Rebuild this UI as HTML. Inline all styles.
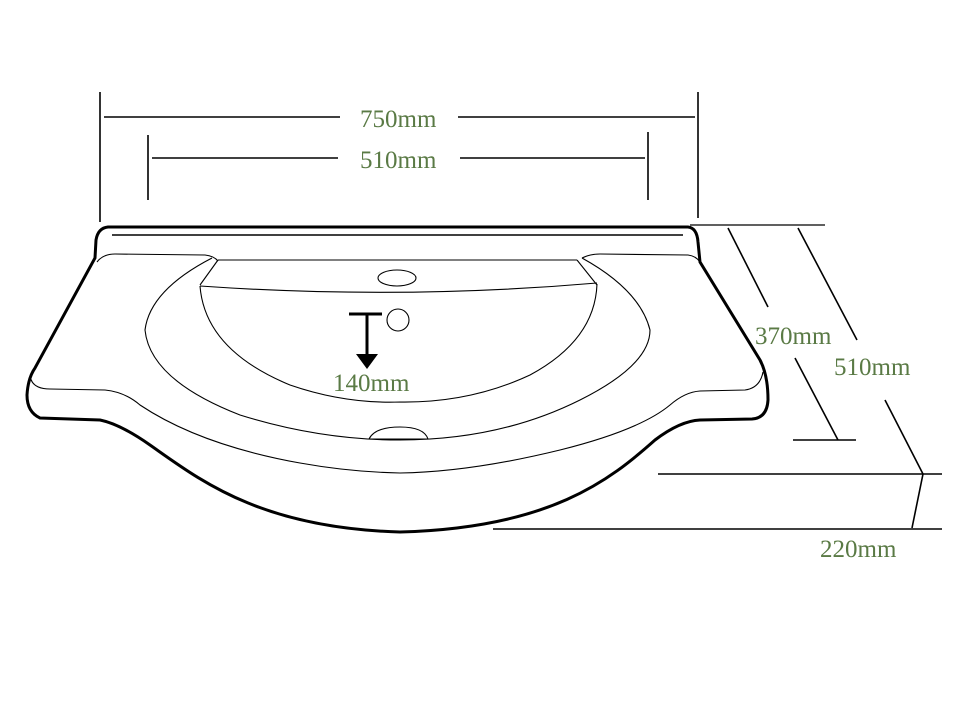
<!DOCTYPE html>
<html><head><meta charset="utf-8"><style>
html,body{margin:0;padding:0;background:#fff;}
svg{display:block;}
text{font-family:"Liberation Serif",serif;font-size:25px;fill:#5a7a45;}
</style></head><body>
<svg width="962" height="720" viewBox="0 0 962 720" xmlns="http://www.w3.org/2000/svg">
<g stroke="#000" fill="none" stroke-width="1.6">
<line x1="100" y1="92" x2="100" y2="222"/>
<line x1="698" y1="92" x2="698" y2="218"/>
<line x1="104" y1="117" x2="340" y2="117"/>
<line x1="458" y1="117" x2="695" y2="117"/>
<line x1="148" y1="135" x2="148" y2="200"/>
<line x1="648" y1="132" x2="648" y2="200"/>
<line x1="152" y1="158" x2="338" y2="158"/>
<line x1="460" y1="158" x2="645" y2="158"/>
<line x1="690" y1="225" x2="825" y2="225" stroke-width="1.2"/>
<line x1="728" y1="228" x2="768" y2="307"/>
<line x1="795" y1="358" x2="838" y2="440"/>
<line x1="793" y1="440" x2="856" y2="440"/>
<line x1="798" y1="228" x2="857" y2="340"/>
<line x1="885" y1="400" x2="923" y2="474"/>
<line x1="658" y1="474" x2="942" y2="474"/>
<line x1="493" y1="529" x2="942" y2="529"/>
<line x1="923" y1="474" x2="912" y2="528"/>
</g>
<path d="M108 227 L688 227 Q697 228 698 242 L700 262 L760 360 Q768 375 768 400 Q767 418 752 419 L700 420 Q680 421 655 440 C610 480 550 528 400 532 C260 528 200 480 150 445 Q120 424 100 420 L40 418 Q27 412 27 395 Q28 378 35 368 L95 258 L96 240 Q98 228 108 227 Z" fill="none" stroke="#000" stroke-width="3"/>
<g stroke="#000" fill="none" stroke-width="1.1">
<line x1="112" y1="235" x2="683" y2="235" stroke-width="1.5"/>
<path d="M218 260 L577 260"/>
<path d="M218 260 L200 285"/>
<path d="M577 260 L597 285"/>
<path d="M200 286 Q400 300 597 283"/>
<path d="M200 286 Q205 350 290 385 Q345 404 400 402 Q470 403 530 375 Q595 340 597 284"/>
<path d="M212 258 Q150 290 145 330 Q150 380 240 415 Q320 440 400 440 Q500 440 580 400 Q650 365 650 330 Q640 290 582 258"/>
<path d="M97 262 Q103 254 115 254 L205 255 Q214 256 218 261"/>
<path d="M30 376 Q32 389 50 389 L105 390 Q125 392 140 405 Q200 445 300 463 Q350 472 400 473 Q470 472 560 450 Q640 430 670 405 Q685 392 700 391 L745 390 Q760 388 763 372"/>
<path d="M582 258 Q590 254 600 254 L688 255 Q696 256 700 262"/>
<ellipse cx="397" cy="278" rx="19" ry="8"/>
<circle cx="398" cy="320" r="11"/>
<path d="M369 439 Q375 427 400 427 Q424 427 428 439 Z"/>
</g>
<g stroke="#000" stroke-width="3" fill="none">
<line x1="349" y1="314" x2="382" y2="314"/>
<line x1="367" y1="314" x2="367" y2="358"/>
</g>
<polygon points="356,354 378,354 367,369" fill="#000"/>
<text x="360" y="127">750mm</text>
<text x="360" y="168">510mm</text>
<text x="333" y="391">140mm</text>
<text x="755" y="344">370mm</text>
<text x="834" y="375">510mm</text>
<text x="820" y="557">220mm</text>
</svg>
</body></html>
